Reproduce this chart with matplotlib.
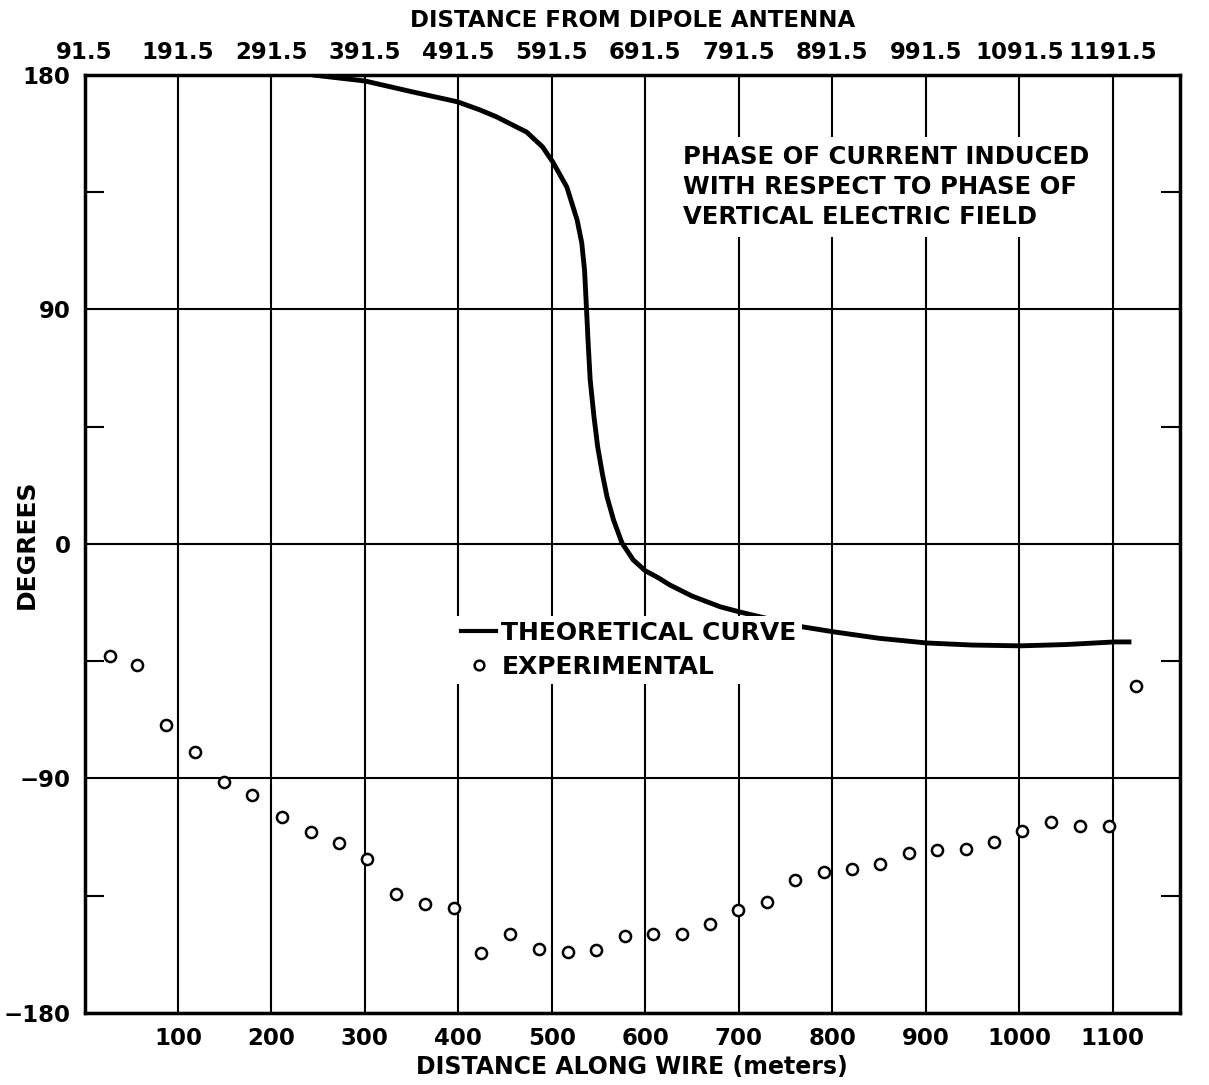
from matplotlib import pyplot as plt
from matplotlib.lines import Line2D

# Экспериментальные точки (метры вдоль провода, градусы)
exp_x = [27, 56, 87, 118, 149, 179, 211, 242, 272, 302, 333, 364, 395, 424,
         455, 486, 517, 547, 578, 608, 639, 669, 699, 730, 760, 791, 821, 851,
         882, 912, 943, 973, 1003, 1034, 1065, 1096, 1125]
exp_deg = [-42.9, -46.4, -69.4, -79.8, -91.3, -96.3, -104.7, -110.5, -114.7,
           -120.8, -134.3, -138.1, -139.7, -157.0, -149.6, -155.4, -156.6,
           -155.8, -150.4, -149.6, -149.6, -145.8, -140.4, -137.3, -128.9,
           -125.8, -124.6, -122.8, -118.5, -117.4, -117.0, -114.3, -110.1,
           -106.6, -108.2, -108.2, -54.5]

# Теоретическая кривая
theo_x = [244, 300, 351, 399, 423, 441, 458, 473, 490, 501, 516, 527, 532,
          535, 537, 539, 541, 545, 549, 554, 559, 566, 575, 587, 600, 614,
          626, 650, 680, 701, 728, 768, 801, 850, 901, 950, 1001, 1050, 1102,
          1120]
theo_deg = [180.0, 177.7, 173.5, 169.7, 166.6, 163.9, 160.8, 158.1, 152.4,
            146.6, 137.0, 124.4, 115.5, 105.0, 90.6, 76.0, 63.0, 49.0, 37.3,
            27.0, 18.1, 9.2, 0.4, -6.1, -10.3, -13.0, -15.7, -20.0, -24.1,
            -26.1, -28.4, -31.8, -33.7, -36.2, -38.0, -38.8, -39.1, -38.6,
            -37.6, -37.6]

bottom_ticks = [100, 200, 300, 400, 500, 600, 700, 800, 900, 1000, 1100]
top_ticks = list(range(0, 1200, 100))
top_labels = ['91.5', '191.5', '291.5', '391.5', '491.5', '591.5', '691.5',
              '791.5', '891.5', '991.5', '1091.5', '1191.5']
y_ticks = [-180, -90, 0, 90, 180]
y_minor = [-135, -45, 45, 135]

plt.rcParams['font.family'] = 'DejaVu Sans'
plt.rcParams['font.weight'] = 'bold'
fs = 16.5

fig = plt.figure(figsize=(12.09, 10.85), dpi=100)
ax = fig.add_axes([0.0699, 0.0664, 0.976 - 0.0699, 0.9309 - 0.0664])

ax.plot(theo_x, theo_deg, color='black', lw=3.5, solid_capstyle='butt',
        solid_joinstyle='round', zorder=3)
ax.plot(exp_x, exp_deg, 'o', mfc='white', mec='black', ms=8, mew=1.8, zorder=4)

ax.set_xlim(0, 1172)
ax.set_ylim(-180, 180)
ax.set_xticks(bottom_ticks)
ax.set_yticks(y_ticks)
ax.set_yticks(y_minor, minor=True)
ax.tick_params(axis='both', which='major', length=0, labelsize=fs, pad=10)
ax.tick_params(axis='y', which='minor', direction='in', length=14, width=1.5,
               left=True, right=True)
ax.grid(True, which='major', color='black', lw=1.5, zorder=1)
for sp in ax.spines.values():
    sp.set_linewidth(2.5)

top = ax.secondary_xaxis('top')
top.set_xticks(top_ticks, top_labels)
top.tick_params(length=0, labelsize=fs, pad=8)
top.set_xlabel('DISTANCE FROM DIPOLE ANTENNA', fontsize=16.5, fontweight='bold', labelpad=10)

ax.set_xlabel('DISTANCE ALONG WIRE (meters)', fontsize=17, fontweight='bold', labelpad=4)
ax.set_ylabel('DEGREES', fontsize=18, fontweight='bold')
ax.yaxis.set_label_coords(-0.0415, 0.5)

ax.text(640, 153, 'PHASE OF CURRENT INDUCED\nWITH RESPECT TO PHASE OF\nVERTICAL ELECTRIC FIELD',
        fontsize=17.5, fontweight='bold', ha='left', va='top', linespacing=1.3, zorder=5,
        bbox=dict(facecolor='white', edgecolor='none', pad=6))

handles = [Line2D([], [], color='black', lw=3),
           Line2D([], [], ls='none', marker='o', mfc='white', mec='black', ms=7, mew=1.8)]
leg = ax.legend(handles, ['THEORETICAL CURVE', 'EXPERIMENTAL'], loc='upper left',
                bbox_to_anchor=(0.328, 0.437), prop={'size': 18, 'weight': 'bold'},
                frameon=True, handlelength=1.4, handletextpad=0.2, labelspacing=0.4,
                borderpad=0.2, fancybox=False)
leg.get_frame().set_edgecolor('none')
leg.get_frame().set_alpha(1)
leg.set_zorder(6)

fig.savefig('out.png', dpi=100)
